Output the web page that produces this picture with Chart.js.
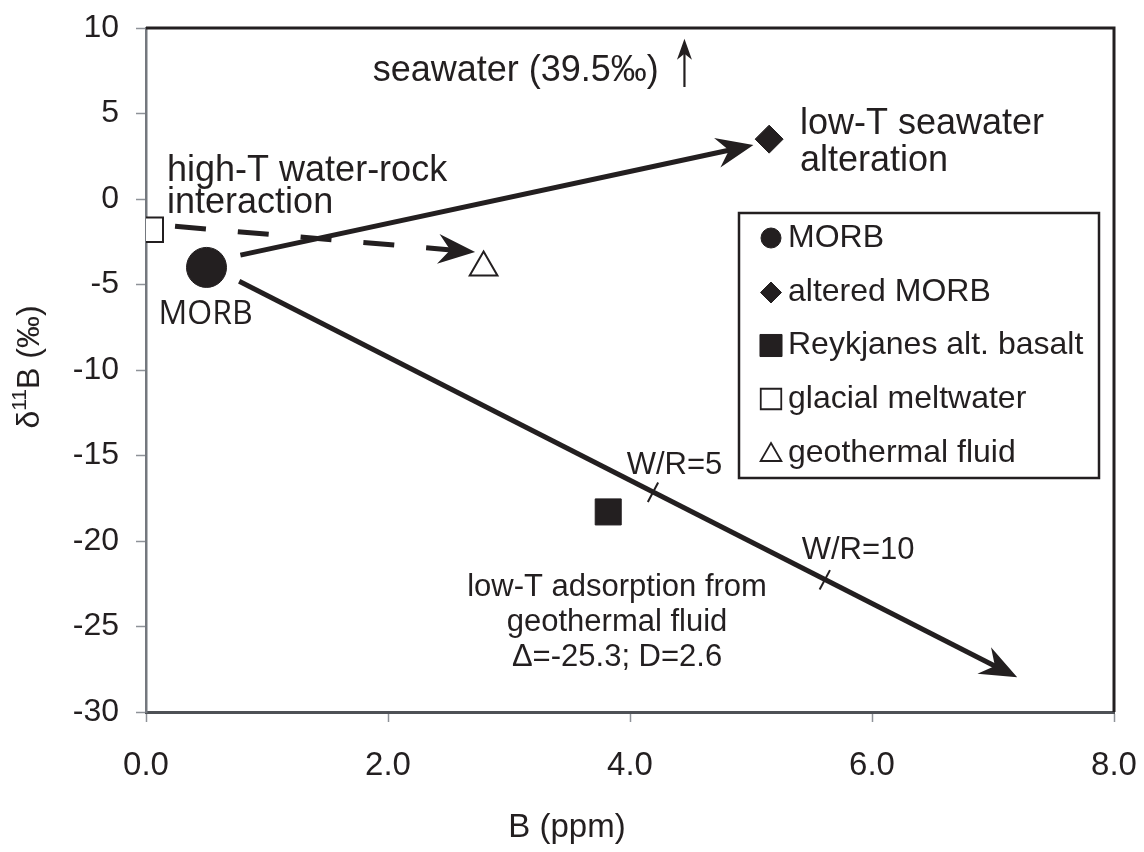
<!DOCTYPE html>
<html>
<head>
<meta charset="utf-8">
<script src="https://cdn.jsdelivr.net/npm/chart.js@4.4.1/dist/chart.umd.min.js"></script>
<style>
  html, body { margin: 0; padding: 0; background: #ffffff; }
  #wrap { width: 1144px; height: 852px; }
</style>
</head>
<body>
<div id="wrap"><canvas id="c" width="1144" height="852"></canvas></div>
<script>
// ---------------- data ----------------
const X_TICK_VALUES = [0, 2, 4, 6, 8];
const Y_TICK_VALUES = [-30, -25, -20, -15, -10, -5, 0, 5, 10];
const SERIES_NAMES = ['MORB', 'altered MORB', 'Reykjanes alt. basalt', 'glacial meltwater', 'geothermal fluid'];
const MORB = [{ x: 0.50, y: -4.0 }];
const ALTERED_MORB = [{ x: 5.15, y: 3.5 }];
const REYKJANES = [{ x: 3.82, y: -18.3 }];
const GLACIAL_MELTWATER = [{ x: 0.04, y: -1.8 }];
const GEOTHERMAL_FLUID = [{ x: 2.79, y: -4.0 }];
const ARROW_LOWT_SEAWATER = [{ x: 0.78, y: -3.28 }, { x: 5.02, y: 3.16 }];
const ARROW_HIGHT = [{ x: 0.24, y: -1.6 }, { x: 2.72, y: -3.1 }];
const ARROW_ADSORPTION = [{ x: 0.77, y: -4.81 }, { x: 7.20, y: -27.97 }];
const ARROW_SEAWATER = [{ x: 4.45, y: 6.55 }, { x: 4.45, y: 9.37 }];
const WR_MARKS = [{ x: 4.19, y: -17.15 }, { x: 5.61, y: -22.27 }];
const WR_LABELS = ['W/R=5', 'W/R=10'];
const X_TITLE = 'B (ppm)';

// ---------------- styles / annotation placement ----------------
const INK = '#231f20';
const FONT = "'Liberation Sans', Arial, Helvetica, sans-serif";
const NOTES = [
  { text: 'seawater (39.5‰)', x: 1.873, y: 6.92, size: 36, align: 'left' },
  { text: 'high-T water-rock', x: 0.174, y: 1.05, size: 36, align: 'left' },
  { text: 'interaction', x: 0.174, y: -0.80, size: 36, align: 'left' },
  { text: 'low-T seawater', x: 5.405, y: 3.80, size: 36, align: 'left' },
  { text: 'alteration', x: 5.405, y: 1.66, size: 36, align: 'left' },
  { text: 'MORB', x: 0.492, y: -7.31, size: 32, align: 'center', family: "'Open Sans', 'Noto Sans', sans-serif" },
  { text: WR_LABELS[0], x: 3.973, y: -16.11, size: 31, align: 'left' },
  { text: WR_LABELS[1], x: 5.419, y: -21.04, size: 31, align: 'left' },
  { text: 'low-T adsorption from', x: 3.893, y: -23.23, size: 31, align: 'center' },
  { text: 'geothermal fluid', x: 3.893, y: -25.28, size: 31, align: 'center' },
  { text: 'Δ=-25.3; D=2.6', x: 3.893, y: -27.33, size: 31, align: 'center' }
];
const LEGEND = {
  box: { left: 739, top: 213, right: 1099, bottom: 478 },
  markerX: 771, textX: 788, rows: [238, 292.5, 345.5, 399, 453],
  size: 32,
  markers: [
    { pointStyle: 'circle', radius: 10, fill: INK, border: INK, bw: 1, dy: 0 },
    { pointStyle: 'rectRot', radius: 10.5, fill: INK, border: INK, bw: 1, dy: 0 },
    { pointStyle: 'rect', radius: 15.6, fill: INK, border: INK, bw: 1, dy: 0 },
    { pointStyle: 'rect', radius: 14.5, fill: '#ffffff', border: INK, bw: 1.8, dy: 0 },
    { pointStyle: 'triangle', radius: 12, fill: '#ffffff', border: INK, bw: 1.8, dy: 2 }
  ]
};
const HEAD_BIG = { L: 37, W: 15, N: 25 };
const HEAD_SMALL = { L: 21, W: 7.5, N: 15 };

function scatterSet(label, data, style, fill, radius, bw) {
  return {
    label, data, showLine: false,
    pointStyle: style, pointRadius: radius, pointHoverRadius: radius,
    backgroundColor: fill, borderColor: INK, pointBorderWidth: bw, borderWidth: bw,
    order: 0
  };
}
function arrowSet(label, data, width, dash, head) {
  return {
    label, data, showLine: true, pointRadius: 0, pointHoverRadius: 0,
    borderColor: INK, backgroundColor: INK, borderWidth: width, borderDash: dash,
    borderCapStyle: 'butt', fill: false, tension: 0, order: 5, arrowHead: head
  };
}

const datasets = [
  scatterSet(SERIES_NAMES[0], MORB, 'circle', INK, 20, 1),
  scatterSet(SERIES_NAMES[1], ALTERED_MORB, 'rectRot', INK, 14, 1),
  scatterSet(SERIES_NAMES[2], REYKJANES, 'rect', INK, 18.4, 1),
  scatterSet(SERIES_NAMES[3], GLACIAL_MELTWATER, 'rect', '#ffffff', 17.2, 2),
  scatterSet(SERIES_NAMES[4], GEOTHERMAL_FLUID, 'triangle', '#ffffff', 16, 2),
  arrowSet('low-T seawater alteration', ARROW_LOWT_SEAWATER, 5, [], HEAD_BIG),
  arrowSet('high-T water-rock interaction', ARROW_HIGHT, 5, [31, 32], HEAD_BIG),
  arrowSet('low-T adsorption', ARROW_ADSORPTION, 5, [], HEAD_BIG),
  arrowSet('seawater', ARROW_SEAWATER, 2.2, [], HEAD_SMALL),
  {
    label: 'W/R marks', data: WR_MARKS, showLine: false,
    pointStyle: 'line', pointRadius: 11, pointHoverRadius: 11, rotation: 118,
    borderColor: INK, pointBorderWidth: 2, borderWidth: 2, order: 1
  }
];

// ---------------- helpers ----------------
function pix(chart, p) {
  return { x: chart.scales.x.getPixelForValue(p.x), y: chart.scales.y.getPixelForValue(p.y) };
}
function drawMarker(ctx, m, x, y) {
  const h = Chart.helpers;
  ctx.save();
  ctx.fillStyle = m.fill; ctx.strokeStyle = m.border; ctx.lineWidth = m.bw;
  if (h && h.drawPoint) {
    h.drawPoint(ctx, { pointStyle: m.pointStyle, radius: m.radius, rotation: 0, borderWidth: m.bw }, x, y);
  } else {
    ctx.beginPath(); ctx.arc(x, y, m.radius, 0, Math.PI * 2); ctx.fill(); ctx.stroke();
  }
  ctx.restore();
}

const arrowPlugin = {
  id: 'arrows',
  beforeDatasetsDraw(chart) {
    chart.data.datasets.forEach((ds, i) => {
      if (!ds.arrowHead) return;
      const meta = chart.getDatasetMeta(i);
      const n = ds.data.length;
      const a = pix(chart, ds.data[n - 2]), b = pix(chart, ds.data[n - 1]);
      const dx = b.x - a.x, dy = b.y - a.y, len = Math.hypot(dx, dy);
      const ux = dx / len, uy = dy / len;
      const back = ds.arrowHead.N - 1;
      const el = meta.data[n - 1];
      el.x = b.x - ux * back; el.y = b.y - uy * back;
      if (meta.dataset) { delete meta.dataset._path; }
    });
  },
  afterDatasetDraw(chart, args) {
    const ds = chart.data.datasets[args.index];
    if (!ds.arrowHead) return;
    const { L, W, N } = ds.arrowHead;
    const n = ds.data.length;
    const a = pix(chart, ds.data[n - 2]), b = pix(chart, ds.data[n - 1]);
    const dx = b.x - a.x, dy = b.y - a.y, len = Math.hypot(dx, dy);
    const ux = dx / len, uy = dy / len, px = -uy, py = ux;
    const ctx = chart.ctx;
    ctx.save();
    ctx.fillStyle = INK;
    ctx.beginPath();
    ctx.moveTo(b.x, b.y);
    ctx.lineTo(b.x - ux * L + px * W, b.y - uy * L + py * W);
    ctx.lineTo(b.x - ux * N, b.y - uy * N);
    ctx.lineTo(b.x - ux * L - px * W, b.y - uy * L - py * W);
    ctx.closePath();
    ctx.fill();
    ctx.restore();
  }
};

const decorPlugin = {
  id: 'decor',
  afterDraw(chart) {
    const ctx = chart.ctx, ca = chart.chartArea;
    ctx.save();
    // top & right frame
    ctx.strokeStyle = INK; ctx.lineWidth = 3;
    ctx.beginPath();
    ctx.moveTo(ca.left, ca.top); ctx.lineTo(ca.right, ca.top); ctx.lineTo(ca.right, ca.bottom);
    ctx.stroke();
    // annotations
    ctx.fillStyle = INK;
    ctx.textBaseline = 'alphabetic';
    NOTES.forEach(nt => {
      const p = pix(chart, nt);
      ctx.font = nt.size + 'px ' + (nt.family || FONT);
      ctx.textAlign = nt.align;
      ctx.fillText(nt.text, p.x, p.y);
    });
    // legend
    const bx = LEGEND.box;
    ctx.strokeStyle = INK; ctx.lineWidth = 2.5;
    ctx.fillStyle = '#ffffff';
    ctx.fillRect(bx.left, bx.top, bx.right - bx.left, bx.bottom - bx.top);
    ctx.strokeRect(bx.left, bx.top, bx.right - bx.left, bx.bottom - bx.top);
    ctx.font = LEGEND.size + 'px ' + FONT;
    ctx.textAlign = 'left'; ctx.textBaseline = 'middle';
    SERIES_NAMES.forEach((name, i) => {
      const y = LEGEND.rows[i];
      const m = LEGEND.markers[i];
      drawMarker(ctx, m, LEGEND.markerX, y + m.dy);
      ctx.fillStyle = INK;
      ctx.fillText(name, LEGEND.textX, y);
    });
    // x axis title
    ctx.font = '33px ' + FONT;
    ctx.textAlign = 'center'; ctx.textBaseline = 'middle';
    ctx.fillText(X_TITLE, 567, 828);
    // y axis title  δ11B (‰)
    ctx.translate(30.5, 367);
    ctx.rotate(-Math.PI / 2);
    const big = '32px ' + FONT, small = '21px ' + FONT;
    ctx.font = big; const w1 = ctx.measureText('δ').width;
    ctx.font = small; const w2 = ctx.measureText('11').width;
    ctx.font = big; const w3 = ctx.measureText('B (‰)').width;
    let x0 = -(w1 + w2 + w3) / 2;
    ctx.textAlign = 'left';
    ctx.font = big; ctx.fillText('δ', x0, 0);
    ctx.font = small; ctx.fillText('11', x0 + w1, -10);
    ctx.font = big; ctx.fillText('B (‰)', x0 + w1 + w2, 0);
    ctx.restore();
  }
};

Chart.defaults.font.family = FONT;
Chart.defaults.color = INK;

new Chart(document.getElementById('c'), {
  type: 'scatter',
  data: { datasets },
  plugins: [arrowPlugin, decorPlugin],
  options: {
    responsive: false,
    animation: false,
    events: [],
    layout: { padding: { top: 28, right: 30, left: 0, bottom: 0 } },
    plugins: { legend: { display: false }, tooltip: { enabled: false } },
    scales: {
      x: {
        type: 'linear', min: 0, max: 8,
        afterBuildTicks: s => { s.ticks = X_TICK_VALUES.map(v => ({ value: v })); },
        afterFit: s => { s.height = 140; s.paddingLeft = 0; s.paddingRight = 0; },
        ticks: { callback: v => Number(v).toFixed(1), font: { size: 33 }, color: INK, padding: 24, maxRotation: 0, autoSkip: false },
        grid: { drawOnChartArea: false, drawTicks: true, tickLength: 10, tickColor: '#8e9298', tickWidth: 1.5 },
        border: { display: true, color: '#4e5156', width: 3 }
      },
      y: {
        type: 'linear', min: -30, max: 10,
        afterBuildTicks: s => { s.ticks = Y_TICK_VALUES.map(v => ({ value: v })); },
        afterFit: s => { s.width = 146; s.paddingTop = 0; s.paddingBottom = 0; },
        ticks: { callback: v => String(v), font: { size: 32 }, color: INK, padding: 17, autoSkip: false },
        grid: { drawOnChartArea: false, drawTicks: true, tickLength: 10, tickColor: '#8e9298', tickWidth: 1.5 },
        border: { display: true, color: '#74787e', width: 2.5 }
      }
    }
  }
});
</script>
</body>
</html>
